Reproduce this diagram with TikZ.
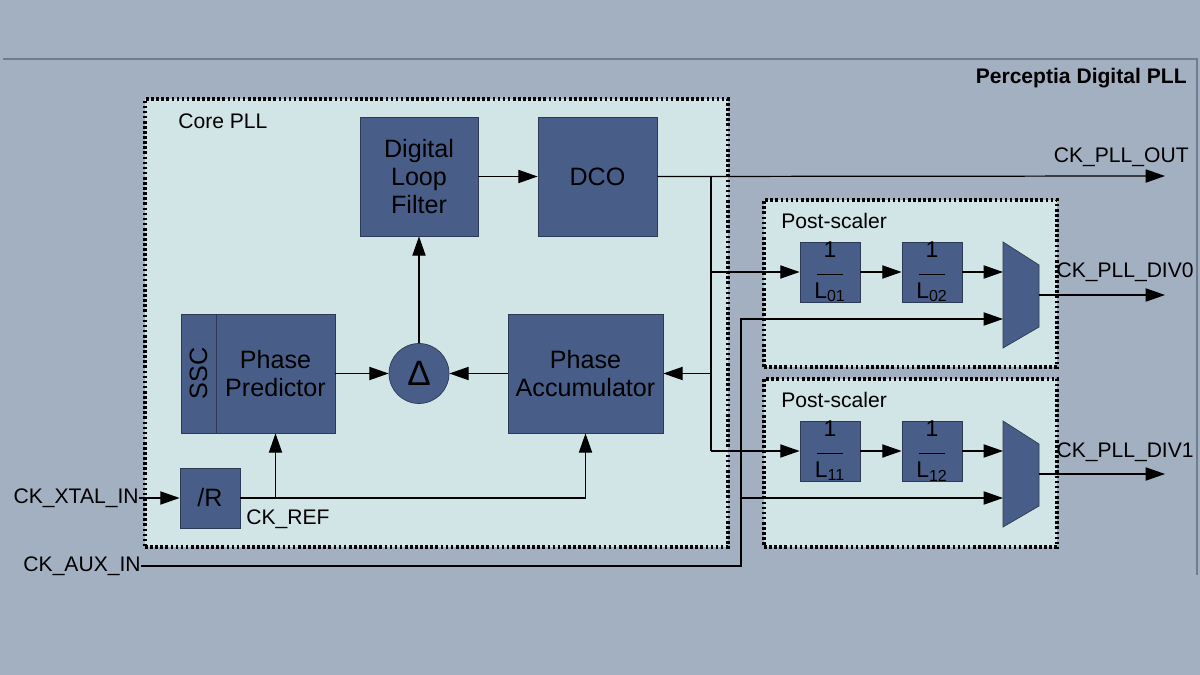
\documentclass[tikz,border=0pt]{standalone}
\usepackage{fontspec}
\setmainfont{Liberation Sans}
\usetikzlibrary{arrows.meta, positioning, calc}
\definecolor{pBack}{HTML}{A3B0C2}
\definecolor{pPanel}{HTML}{D2E5E6}
\definecolor{pBlock}{HTML}{485E89}
\definecolor{pEdge}{HTML}{2C3A55}
\definecolor{pFrame}{HTML}{6E7D92}

\begin{document}
\begin{tikzpicture}[
  x=0.02cm, y=-0.02cm,
  every node/.style={font=\fontsize{12}{14}\selectfont, inner sep=0pt},
  panel/.style={draw=black, fill=pPanel, line width=1.9pt, dash pattern=on 1.5pt off 1.4pt},
  block/.style={draw=pEdge, fill=pBlock, line width=0.4pt, align=center,
                font=\fontsize{14.3}{16}\selectfont},
  divbox/.style={block, minimum width=1.2cm, minimum height=1.2cm,
                 font=\fontsize{13}{14}\selectfont},
  arr/.style={-{Triangle[length=11pt, width=7.5pt]}, line width=0.7pt},
  wire/.style={line width=0.7pt},
]
\useasboundingbox (0,0) rectangle (1200,675);
\fill[pBack] (0,0) rectangle (1200,675);
\draw[pFrame, line width=0.8pt] (3,59) -- (1197,59) -- (1197,575);
\node[anchor=east, font=\fontsize{12}{14}\selectfont\bfseries] (title) at (1187,78) {Perceptia Digital PLL};

% Containers
\node[panel, minimum width=11.66cm, minimum height=8.96cm] (core) at (436.5,323) {};
\node[anchor=west] (corelbl) at (178,121) {Core PLL};
\node[panel, minimum width=5.86cm, minimum height=3.34cm] (ps0) at (910.5,283.5) {};
\node[anchor=west] (ps0lbl) at (781,221) {Post-scaler};
\node[panel, minimum width=5.86cm, minimum height=3.36cm] (ps1) at (910.5,463) {};
\node[anchor=west] (ps1lbl) at (781,400) {Post-scaler};

% Core PLL blocks
\node[block, minimum width=2.36cm, minimum height=2.38cm] (dlf) at (419,176.5) {Digital\\Loop\\Filter};
\node[block, minimum width=2.38cm, minimum height=2.38cm] (dco) at (597.5,176.5) {DCO};
\node[block, minimum width=0.7cm, minimum height=2.38cm] (ssc) at (198.5,373.5) {\rotatebox{90}{SSC}};
\node[block, minimum width=2.38cm, minimum height=2.38cm] (pred) at (275.5,373.5) {Phase\\Predictor};
\node[block, circle, minimum size=1.2cm] (delta) at (419,373.5) {\fontsize{20}{22}\selectfont Δ};
\node[block, minimum width=3.1cm, minimum height=2.38cm] (acc) at (585.5,373.5) {Phase\\Accumulator};
\node[block, minimum width=1.2cm, minimum height=1.2cm] (divr) at (210,498) {/R};

% Post-scalers
\node[divbox] (l01) at (830,272) {1\\[-4pt]\rule{15pt}{0.5pt}\\[-1pt]L\textsubscript{01}};
\node[divbox] (l02) at (932,272) {1\\[-4pt]\rule{15pt}{0.5pt}\\[-1pt]L\textsubscript{02}};
\node[divbox] (l11) at (830,451) {1\\[-4pt]\rule{15pt}{0.5pt}\\[-1pt]L\textsubscript{11}};
\node[divbox] (l12) at (932,451) {1\\[-4pt]\rule{15pt}{0.5pt}\\[-1pt]L\textsubscript{12}};
\draw[draw=pEdge, fill=pBlock] (1003,242) -- (1039,265) -- (1039,327) -- (1003,348) -- cycle;
\draw[draw=pEdge, fill=pBlock] (1003,421) -- (1039,444) -- (1039,506) -- (1003,527) -- cycle;
\coordinate (m0a) at (1003,272);
\coordinate (m0b) at (1003,319);
\coordinate (m0o) at (1039,295);
\coordinate (m1a) at (1003,451);
\coordinate (m1b) at (1003,498);
\coordinate (m1o) at (1039,474);

% Inputs
\node[anchor=east] (xtal) at (139,498) {CK\_XTAL\_IN};
\node[anchor=east] (aux) at (141,566) {CK\_AUX\_IN};
\node[anchor=north west] (ref) at (246,509) {CK\_REF};
\coordinate (auxtop) at (741,319);

% Outputs
\coordinate (out) at (1165,176);
\coordinate (div0) at (1165,295);
\coordinate (div1) at (1165,474);
\node[anchor=east] (outlbl) at (1189,157) {CK\_PLL\_OUT};
\node[anchor=east] (div0lbl) at (1194,272) {CK\_PLL\_DIV0};
\node[anchor=east] (div1lbl) at (1194,452) {CK\_PLL\_DIV1};

% Connections
\draw[arr] (xtal) -- (divr);
\draw[arr] (divr.east) -| (acc.south);
\draw[arr] (pred.south |- divr.east) -- (pred.south);
\draw[arr] (pred) -- (delta);
\draw[arr] (acc) -- (delta);
\draw[arr] (delta) -- (dlf);
\draw[arr] (dlf) -- (dco);
\draw[arr] (dco.east) -- (out);
\coordinate (br) at (711,176);
\coordinate (brb) at (711,451);
\draw[wire] (br) -- (brb);
\draw[arr] (br |- l01) -- (l01);
\draw[arr] (br |- acc) -- (acc);
\draw[arr] (brb) -- (l11);
\draw[arr] (l01) -- (l02);
\draw[arr] (l02) -- (m0a);
\draw[arr] (l11) -- (l12);
\draw[arr] (l12) -- (m1a);
\draw[arr] (aux.east) -| (auxtop) |- (m0b);
\draw[arr] (auxtop |- m1b) -- (m1b);
\draw[arr] (m0o) -- (div0);
\draw[arr] (m1o) -- (div1);
\end{tikzpicture}
\end{document}
